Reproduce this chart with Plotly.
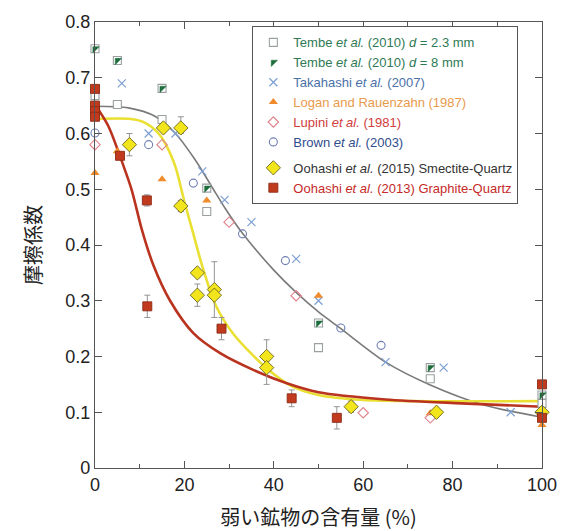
import plotly.graph_objects as go

# ---------------- data ----------------
tembe23_x = [0, 5, 15, 25, 50, 75, 100]
tembe23_y = [0.668, 0.652, 0.625, 0.46, 0.216, 0.16, 0.116]

tembe8_x = [0, 5, 15, 25, 50, 75, 100]
tembe8_y = [0.752, 0.731, 0.681, 0.502, 0.26, 0.18, 0.131]

takahashi_x = [6, 12, 18, 24, 29, 35, 45, 50, 65, 78, 93]
takahashi_y = [0.69, 0.60, 0.60, 0.532, 0.481, 0.441, 0.375, 0.30, 0.19, 0.18, 0.10]

logan_x = [0, 5, 15, 25, 50, 75, 100, 100]
logan_y = [0.529, 0.568, 0.518, 0.48, 0.309, 0.098, 0.10, 0.077]

lupini_x = [0, 15, 30, 45, 60, 75]
lupini_y = [0.58, 0.58, 0.441, 0.309, 0.099, 0.09]

brown_x = [0, 12, 22, 33, 42.6, 55, 64]
brown_y = [0.601, 0.58, 0.511, 0.42, 0.372, 0.251, 0.22]

oohashi15_x = [7.7, 15.3, 19.2, 19.2, 22.9, 22.9, 26.7, 26.7, 38.4, 38.4, 57.3, 76.4, 100]
oohashi15_y = [0.58, 0.61, 0.61, 0.47, 0.35, 0.31, 0.32, 0.31, 0.20, 0.18, 0.11, 0.10, 0.10]
oohashi15_err_up = [0.02, 0.0, 0.02, 0.01, 0.0, 0.02, 0.05, 0.0, 0.03, 0.0, 0.01, 0.005, 0.0]
oohashi15_err_dn = [0.02, 0.0, 0.01, 0.01, 0.0, 0.02, 0.05, 0.0, 0.0, 0.03, 0.01, 0.005, 0.0]

oohashi13_x = [0, 0, 0, 0, 5.6, 11.6, 11.7, 28.3, 44, 54.1, 100, 100]
oohashi13_y = [0.68, 0.65, 0.64, 0.63, 0.56, 0.48, 0.29, 0.25, 0.125, 0.09, 0.15, 0.09]
oohashi13_err = [0.0, 0.0, 0.0, 0.0, 0.0, 0.01, 0.02, 0.02, 0.015, 0.02, 0.0, 0.0]

# fitted curves
grey_x = [0, 7.5, 13.4, 17.9, 22.4, 26.1, 29.1, 33, 40, 45, 50, 55, 65, 75, 87, 100]
grey_y = [0.649, 0.646, 0.631, 0.601, 0.553, 0.505, 0.466, 0.421, 0.355, 0.315, 0.28, 0.25, 0.19, 0.149, 0.113, 0.091]

yellow_x = [0, 8, 11, 14, 16, 18, 20, 22, 24, 27, 31, 38.4, 44, 50, 60, 70, 100]
yellow_y = [0.626, 0.626, 0.620, 0.602, 0.578, 0.540, 0.478, 0.420, 0.362, 0.292, 0.240, 0.179, 0.147, 0.131, 0.122, 0.120, 0.120]

red_x = [0, 3, 5.6, 8.2, 10.4, 13, 16.8, 22, 28, 35.4, 42.9, 50, 65, 82, 100]
red_y = [0.652, 0.613, 0.559, 0.499, 0.43, 0.365, 0.30, 0.242, 0.206, 0.176, 0.152, 0.136, 0.123, 0.116, 0.11]

x_ticks = [0, 20, 40, 60, 80, 100]
y_ticks = [0, 0.1, 0.2, 0.3, 0.4, 0.5, 0.6, 0.7, 0.8]

# ---------------- figure ----------------
fig = go.Figure()

def add_curve(x, y, color, width):
    fig.add_trace(go.Scatter(x=x, y=y, mode="lines",
                             line=dict(color=color, width=width, shape="spline", smoothing=0.8),
                             showlegend=False, hoverinfo="skip"))

add_curve(grey_x, grey_y, "#7a7a7a", 1.6)
add_curve(yellow_x, yellow_y, "#e9e033", 2.6)
add_curve(red_x, red_y, "#b9331f", 2.6)

GREEN = "#2f7a55"

def lab(text, color):
    return f'<span style="color:{color}">{text}</span>'

fig.add_trace(go.Scatter(
    x=tembe23_x, y=tembe23_y, mode="markers", legendgroup="a",
    name=lab("Tembe <i>et al.</i> (2010) <i>d</i> = 2.3 mm", GREEN),
    marker=dict(symbol="square", size=8, color="white", line=dict(color="#9aa0a0", width=1.1))))

fig.add_trace(go.Scatter(
    x=tembe8_x, y=tembe8_y, mode="markers", legendgroup="a", showlegend=False,
    marker=dict(symbol="square", size=8, color="white", line=dict(color="#9aa0a0", width=1.1))))
fig.add_trace(go.Scatter(
    x=tembe8_x, y=tembe8_y, mode="markers", legendgroup="a",
    name=lab("Tembe <i>et al.</i> (2010) <i>d</i> = 8 mm", GREEN),
    marker=dict(symbol="triangle-nw", size=7, color="#1d6e3c", line=dict(color="#1d6e3c", width=0.5))))

fig.add_trace(go.Scatter(
    x=takahashi_x, y=takahashi_y, mode="markers", legendgroup="a",
    name=lab("Takahashi <i>et al.</i> (2007)", "#4a70a8"),
    marker=dict(symbol="x-thin", size=8, color="#7c9fd2", line=dict(color="#7c9fd2", width=1.2))))

fig.add_trace(go.Scatter(
    x=logan_x, y=logan_y, mode="markers", legendgroup="a",
    name=lab("Logan and Rauenzahn (1987)", "#e89a4c"),
    marker=dict(symbol="triangle-up", size=8, color="#f08a2a", line=dict(width=0))))

fig.add_trace(go.Scatter(
    x=lupini_x, y=lupini_y, mode="markers", legendgroup="a",
    name=lab("Lupini <i>et al.</i> (1981)", "#d13c3c"),
    marker=dict(symbol="diamond-open", size=8, color="#e08088", line=dict(width=1.1))))

fig.add_trace(go.Scatter(
    x=brown_x, y=brown_y, mode="markers", legendgroup="a",
    name=lab("Brown <i>et al.</i> (2003)", "#2f4d8c"),
    marker=dict(symbol="circle-open", size=8, color="#6f7fb3", line=dict(width=1.1))))

fig.add_trace(go.Scatter(
    x=oohashi15_x, y=oohashi15_y, mode="markers", legendgroup="b",
    name=lab("Oohashi <i>et al.</i> (2015) Smectite-Quartz", "#333333"),
    error_y=dict(type="data", symmetric=False, array=oohashi15_err_up, arrayminus=oohashi15_err_dn,
                 color="#949494", thickness=1, width=3),
    marker=dict(symbol="diamond", size=11, color="#f3e51c", line=dict(color="#6b6420", width=0.9))))

fig.add_trace(go.Scatter(
    x=oohashi13_x, y=oohashi13_y, mode="markers", legendgroup="b",
    name=lab("Oohashi <i>et al.</i> (2013) Graphite-Quartz", "#c62a28"),
    error_y=dict(type="data", array=oohashi13_err, color="#949494", thickness=1, width=3),
    marker=dict(symbol="square", size=9, color="#c23a1e", line=dict(color="#8a2a15", width=0.9))))

for tr in fig.data:
    tr.cliponaxis = False

axis_common = dict(showline=True, linecolor="#555555", linewidth=1.2, mirror="ticks",
                   ticks="inside", tickcolor="#555555", ticklen=7, tickwidth=1.1,
                   showgrid=False, zeroline=False, automargin=False,
                   tickfont=dict(family="Liberation Sans, Arial", size=18, color="#222222"))

fig.update_xaxes(range=[0, 100], tickvals=x_ticks, ticktext=[str(v) for v in x_ticks],
                 minor=dict(dtick=10, ticks="inside", ticklen=4, tickcolor="#555555"),
                 title=dict(text="弱い鉱物の含有量 (%)", standoff=20,
                            font=dict(family="Noto Sans CJK JP", size=20, color="#222222")),
                 **axis_common)
fig.update_yaxes(range=[0, 0.8], tickvals=y_ticks, ticktext=[("0" if v == 0 else f"{v:.1f}") for v in y_ticks],
                 title=dict(text="摩擦係数", standoff=18,
                            font=dict(family="Noto Sans CJK JP", size=20, color="#222222")),
                 **axis_common)

fig.update_layout(
    width=563, height=531,
    margin=dict(l=95, r=21, t=22, b=63),
    paper_bgcolor="white", plot_bgcolor="white",
    legend=dict(x=0.352, y=0.99, xanchor="left", yanchor="top",
                bgcolor="white", bordercolor="#555555", borderwidth=1,
                font=dict(family="Liberation Sans, Arial", size=13),
                traceorder="grouped", tracegroupgap=6, itemwidth=30),
    showlegend=True,
)

fig.write_html("out.html")
